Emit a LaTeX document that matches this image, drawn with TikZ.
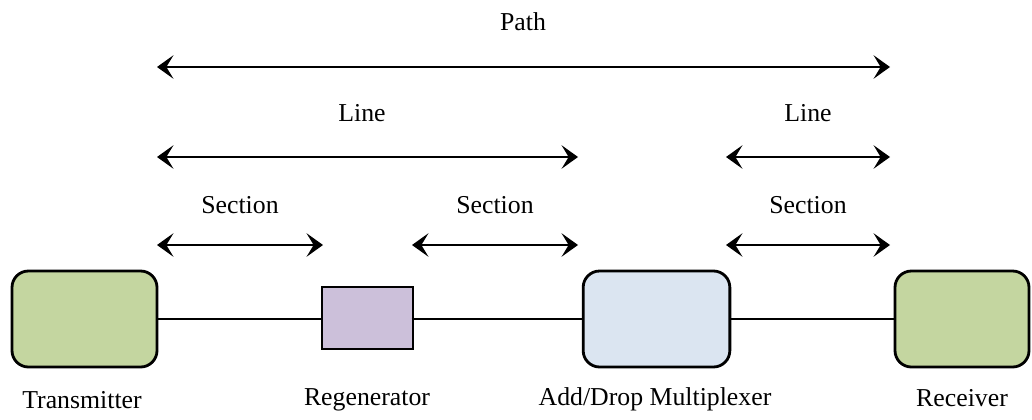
\documentclass[tikz,border=0pt]{standalone}
\usepackage{fontspec}
\setmainfont{Liberation Serif}
\usetikzlibrary{arrows.meta}
\definecolor{endgreen}{HTML}{C4D6A0}
\definecolor{regviolet}{HTML}{CCC0DA}
\definecolor{admblue}{HTML}{DBE5F1}
\begin{document}
\begin{tikzpicture}[
        x=0.015cm, y=-0.015cm,
        box/.style={draw, line width=1.2pt, rounded corners=7pt, inner sep=0pt, minimum height=1.44cm},
        span/.style={{Stealth[length=7pt,width=10pt,inset=3pt]}-{Stealth[length=7pt,width=10pt,inset=3pt]}, line width=1.1pt},
        lbl/.style={font=\fontsize{11}{13}\selectfont, inner sep=0pt}
      ]
        \useasboundingbox (0,0) rectangle (1032,419);
        % network elements
        \node[box, fill=endgreen, minimum width=2.175cm] (tx) at (84.5,319) {};
        \node[draw, line width=1.2pt, fill=regviolet, minimum width=1.365cm, minimum height=0.93cm, inner sep=0pt] (reg) at (367.5,318) {};
        \node[box, fill=admblue, minimum width=2.2cm] (adm) at (656.5,319) {};
        \node[box, fill=endgreen, minimum width=2.01cm] (rx) at (962,319) {};
        \draw[line width=1pt] (tx.east) -- (tx.east -| reg.west);
        \draw[line width=1pt] (reg.west |- tx.east) ++(91,0) -- (adm.west);
        \draw[line width=1pt] (adm.east) -- (rx.west);
        \node[lbl] (txl) at (82,400) {Transmitter};
        \node[lbl] (regl) at (367,400) {Regenerator};
        \node[lbl] (adml) at (655,399) {Add/Drop Multiplexer};
        \node[lbl] (rxl) at (962,398) {Receiver};
        % span ends
        \coordinate (a) at (157,0);
        \coordinate (b) at (323,0);
        \coordinate (c) at (412,0);
        \coordinate (d) at (578,0);
        \coordinate (e) at (726,0);
        \coordinate (f) at (890,0);
        \draw[span] (a |- 0,67) -- (f |- 0,67);
        \draw[span] (a |- 0,157) -- (d |- 0,157);
        \draw[span] (e |- 0,157) -- (f |- 0,157);
        \foreach \l/\r in {a/b, c/d, e/f} {
          \draw[span] (\l |- 0,245) -- (\r |- 0,245);
        }
        \node[lbl] (path) at (523,22) {Path};
        \node[lbl] (line1) at (362,113) {Line};
        \node[lbl] (line2) at (808,113) {Line};
        \node[lbl] (sec1) at (240,205) {Section};
        \node[lbl] (sec2) at (495,205) {Section};
        \node[lbl] (sec3) at (808,205) {Section};
      \end{tikzpicture}
\end{document}
